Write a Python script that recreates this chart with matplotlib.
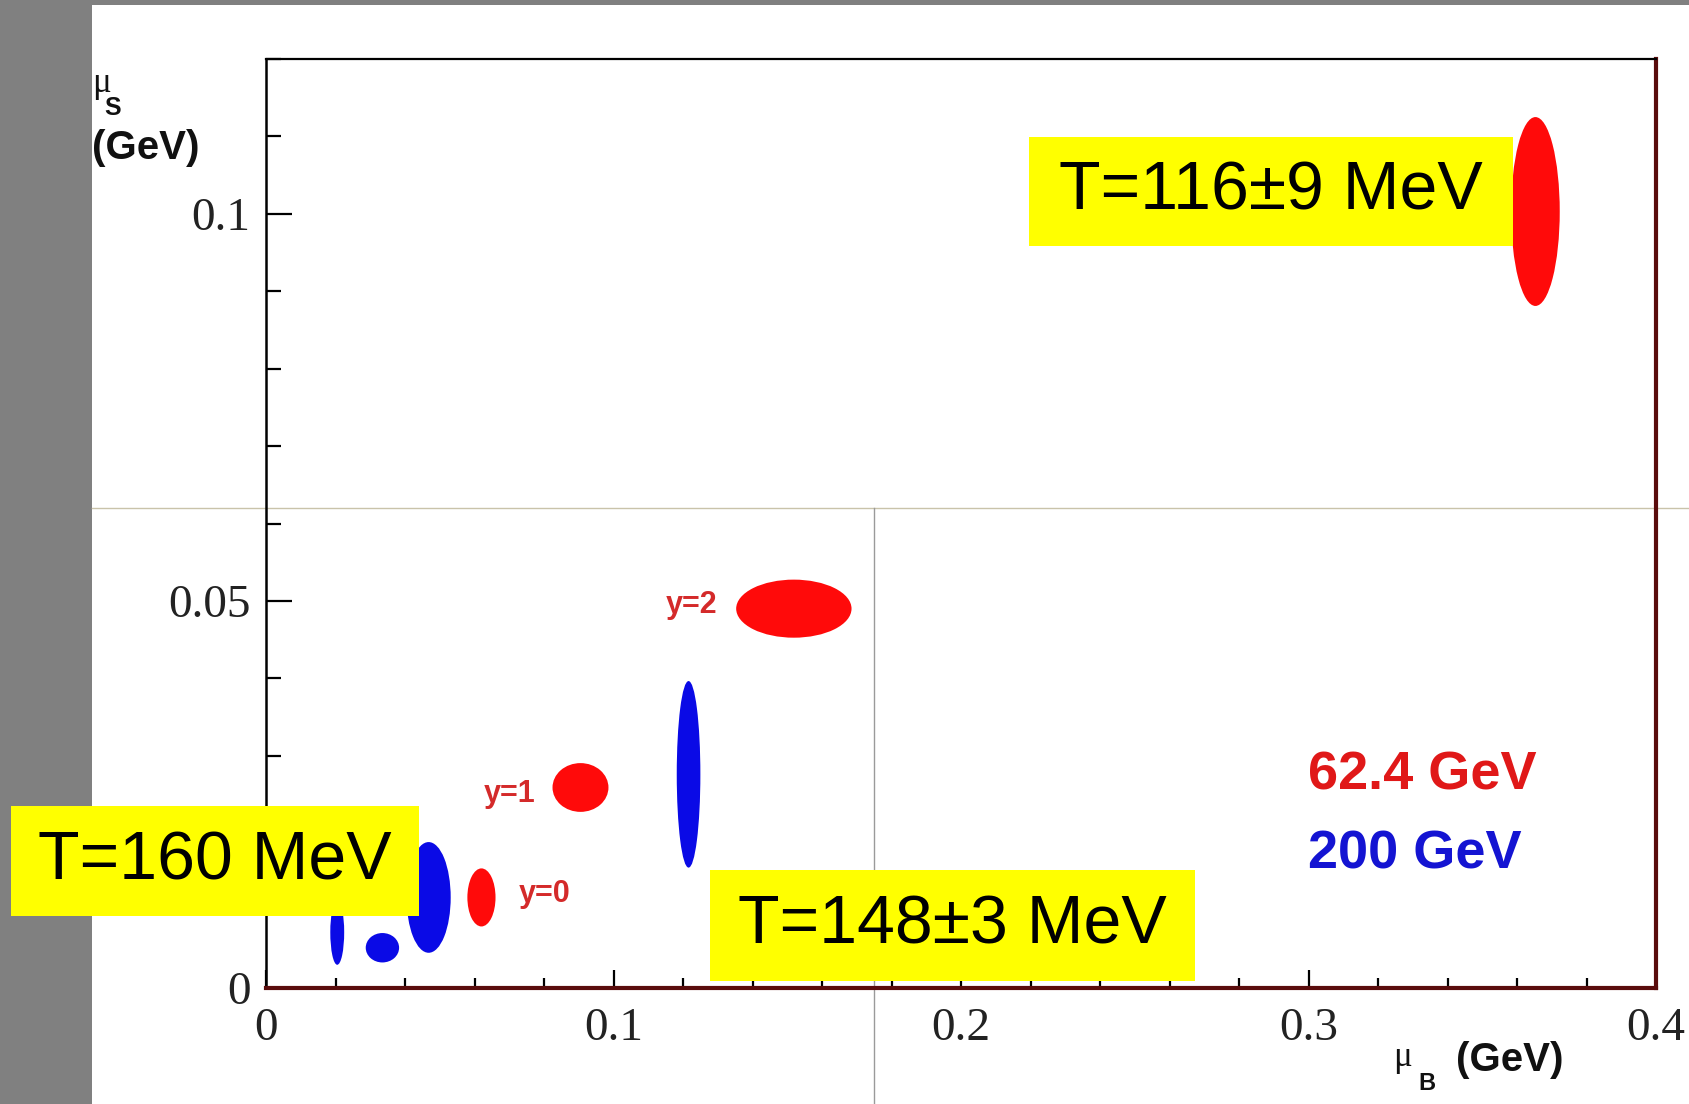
import numpy as np
import matplotlib
matplotlib.use("Agg")
import matplotlib.pyplot as plt
from matplotlib.patches import Ellipse, Rectangle
from matplotlib.lines import Line2D
from matplotlib.ticker import MultipleLocator

# freeze-out contours in the (mu_B, mu_S) plane, in GeV
# 62.4 GeV (y=0, y=1, y=2, forward)
red_mub = [0.0620, 0.0905, 0.1519, 0.3653]
red_mus = [0.0117, 0.0259, 0.0490, 0.1003]
red_w = [0.0081, 0.0161, 0.0332, 0.0140]
red_h = [0.0075, 0.0063, 0.0075, 0.0244]
red_tags = ["y=0", "y=1", "y=2", None]

# 200 GeV
blue_mub = [0.0205, 0.0335, 0.0468, 0.1216]
blue_mus = [0.0072, 0.0052, 0.0117, 0.0276]
blue_w = [0.0040, 0.0096, 0.0127, 0.0068]
blue_h = [0.0084, 0.0038, 0.0143, 0.0241]

temperatures = ["T=116\u00b19 MeV", "T=160 MeV", "T=148\u00b13 MeV"]
energies = ["62.4 GeV", "200 GeV"]

RED = "#ff0a0a"
BLUE = "#0a0ae6"

W, H = 1689, 1104
fig = plt.figure(figsize=(W / 100, H / 100), dpi=100, facecolor="#808080")

# white slide area
fig.patches.append(Rectangle((92 / W, 0), 1 - 92 / W, 1 - 5 / H, transform=fig.transFigure,
                             facecolor="white", edgecolor="none", zorder=-3))
# thin slide rules running behind the plot
fig.lines.append(Line2D([92 / W, 1], [1 - 508 / H] * 2, transform=fig.transFigure,
                        color="#c9c3aa", lw=1.0, zorder=-2))
fig.lines.append(Line2D([874 / W] * 2, [0, 1 - 508 / H], transform=fig.transFigure,
                        color="#9a9a9a", lw=1.0, zorder=-2))

ax = fig.add_axes([266 / W, 1 - 988 / H, (1656 - 266) / W, (988 - 59) / H])
ax.set_facecolor("none")
ax.set_xlim(0, 0.4)
ax.set_ylim(0, 0.12)

for x, y, w, h in zip(blue_mub, blue_mus, blue_w, blue_h):
    ax.add_patch(Ellipse((x, y), w, h, facecolor=BLUE, edgecolor="none"))
for x, y, w, h in zip(red_mub, red_mus, red_w, red_h):
    ax.add_patch(Ellipse((x, y), w, h, facecolor=RED, edgecolor="none"))

# rapidity tags next to the 62.4 GeV contours
tag_style = dict(color="#d42a2a", fontsize=22, fontweight="bold", family="Liberation Sans", va="center")
ax.text(0.0726, 0.0121, red_tags[0], ha="left", **tag_style)
ax.text(0.0775, 0.0251, red_tags[1], ha="right", **tag_style)
ax.text(0.1300, 0.0495, red_tags[2], ha="right", **tag_style)

ax.text(0.300, 0.0274, energies[0], color="#e01818", fontsize=39, fontweight="bold",
        family="Liberation Sans", va="center", ha="left")
ax.text(0.300, 0.0173, energies[1], color="#1414d2", fontsize=39, fontweight="bold",
        family="Liberation Sans", va="center", ha="left")

# ROOT-like axes: inward ticks, serif tick labels
ax.xaxis.set_major_locator(MultipleLocator(0.1))
ax.xaxis.set_minor_locator(MultipleLocator(0.02))
ax.yaxis.set_major_locator(MultipleLocator(0.05))
ax.yaxis.set_minor_locator(MultipleLocator(0.01))
ax.xaxis.set_major_formatter(lambda v, p: f"{v:g}")
ax.yaxis.set_major_formatter(lambda v, p: f"{v:g}")
ax.tick_params(axis="both", which="both", direction="in", top=False, right=False,
               width=1.6, color="black", labelcolor="#222222", labelsize=34)
ax.tick_params(axis="x", which="major", length=13, pad=14)
ax.tick_params(axis="x", which="minor", length=7)
ax.tick_params(axis="y", which="major", length=19, pad=11)
ax.tick_params(axis="y", which="minor", length=11)
for lab in ax.get_xticklabels() + ax.get_yticklabels():
    lab.set_family("Liberation Serif")

ax.spines["top"].set_linewidth(1.6)
ax.spines["left"].set_linewidth(1.8)
ax.spines["bottom"].set_linewidth(3.0)
ax.spines["right"].set_linewidth(3.0)
ax.spines["bottom"].set_color("#5a0c0c")
ax.spines["right"].set_color("#5a0c0c")

# axis titles
fig.text(92 / W, 1 - 84 / H, "\u03bc", fontsize=25, family="Liberation Serif", color="#111111",
         ha="left", va="center")
fig.text(104 / W, 1 - 108 / H, "S", fontsize=18, fontweight="bold", family="Liberation Sans",
         color="#111111", ha="left", va="center")
fig.text(92 / W, 1 - 148 / H, "(GeV)", fontsize=29, fontweight="bold", family="Liberation Sans",
         color="#111111", ha="left", va="center")

fig.text(1393 / W, 1 - 1058 / H, "\u03bc", fontsize=25, family="Liberation Serif", color="#111111",
         ha="left", va="center")
fig.text(1418 / W, 1 - 1083 / H, "B", fontsize=17, fontweight="bold", family="Liberation Sans",
         color="#111111", ha="left", va="center")
fig.text(1456 / W, 1 - 1060 / H, "(GeV)", fontsize=29, fontweight="bold", family="Liberation Sans",
         color="#111111", ha="left", va="center")

# yellow temperature boxes on top of everything
boxes = [(1029, 137, 1513, 246), (11, 806, 419, 916), (710, 870, 1195, 981)]
for (x0, y0, x1, y1), label in zip(boxes, temperatures):
    fig.patches.append(Rectangle((x0 / W, 1 - y1 / H), (x1 - x0) / W, (y1 - y0) / H,
                                 transform=fig.transFigure, facecolor="#ffff00",
                                 edgecolor="none", zorder=5))
    fig.text((x0 + x1) / 2 / W, 1 - (y0 + y1) / 2 / H, label, fontsize=49,
             family="Liberation Sans", color="black", ha="center", va="center", zorder=6)

fig.savefig("out.png", dpi=100, facecolor=fig.get_facecolor())
